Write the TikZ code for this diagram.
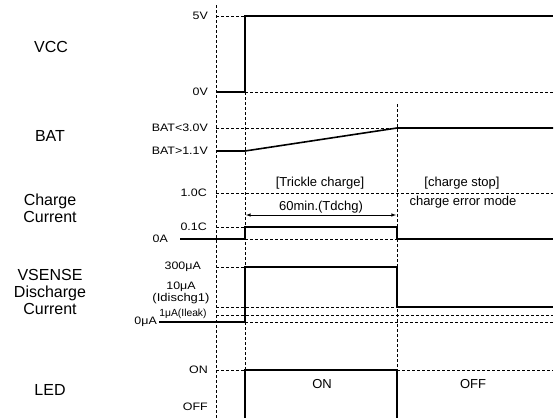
\documentclass[tikz,border=0pt]{standalone}
\usepackage{fontspec}
\setmainfont{Liberation Sans}
\newfontfamily\levelfont[FakeStretch=1.15]{Liberation Sans}
\usetikzlibrary{arrows,positioning}

\begin{document}
\begin{tikzpicture}[x=1pt, y=-1pt,
    sig/.style={line width=1.6pt},
    guide/.style={line width=0.6pt, dash pattern=on 3pt off 2pt},
    vguide/.style={line width=0.9pt, dash pattern=on 3pt off 2pt},
    signame/.style={font=\fontsize{16}{17}\selectfont, align=center, inner sep=0pt},
    level/.style={font=\levelfont\fontsize{10.8}{12}\selectfont, anchor=east, inner sep=0pt},
    phase/.style={font=\fontsize{13}{14}\selectfont, inner sep=0pt}]
    \useasboundingbox (0,0) rectangle (556,418);

    % signal names
    \node[signame] (vcc) at (51,47) {VCC};
    \node[signame] (bat) at (50,136) {BAT};
    \node[signame] (chg) at (50,208) {Charge\\Current};
    \node[signame] (vsense) at (50,292) {VSENSE\\Discharge\\Current};
    \node[signame] (led) at (50,390) {LED};

    % level labels
    \node[level] (v5) at (208,16) {5V};
    \node[level] (v0) at (208,92) {0V};
    \node[level] (bathi) at (208,128) {BAT<3.0V};
    \node[level] (batlo) at (208,151) {BAT>1.1V};
    \node[level] (c10) at (207,193) {1.0C};
    \node[level] (c01) at (207,227) {0.1C};
    \node[level] (a0) at (168,239) {0A};
    \node[level] (ua300) at (201,267) {300μA};
    \node[level, anchor=center] (ua10) at (181,287) {10μA};
    \node[level, anchor=center, font=\levelfont\fontsize{11.3}{12}\selectfont] (idis) at (181,299) {(Idischg1)};
    \node[level, anchor=center, font=\fontsize{10.3}{11}\selectfont] (ileak) at (183,314) {1μA(Ileak)};
    \node[level] (ua0) at (157,322) {0μA};
    \node[level] (on) at (208,370) {ON};
    \node[level] (off) at (208,407) {OFF};

    % phase texts
    \node[phase] (trickle) at (320,183) {[Trickle charge]};
    \node[phase] (tdchg) at (321,207) {60min.(Tdchg)};
    \node[phase] (stop) at (462,183) {[charge stop]};
    \node[phase] (errmode) at (463,202) {charge error mode};
    \node[phase] (ledon) at (322,384) {ON};
    \node[phase] (ledoff) at (473,384) {OFF};

    % time markers
    \draw[vguide] (216,5) -- (216,418);
    \draw[vguide] (245,92) -- (245,418);
    \draw[vguide] (397,104) -- (397,370);

    % VCC
    \draw[guide] (216,16) -- (245,16);
    \draw[guide] (245,92) -- (553,92);
    \draw[sig] (216,92) -- (245,92) -- (245,16) -- (553,16);

    % BAT
    \draw[guide] (216,128) -- (397,128);
    \draw[sig] (216,151) -- (245,151) -- (397,128) -- (553,128);

    % charge current
    \draw[guide] (216,193) -- (553,193);
    \draw[guide] (216,227) -- (245,227);
    \draw[guide] (245,239) -- (397,239);
    \draw[sig] (180,239) -- (245,239) -- (245,227) -- (397,227) -- (397,239) -- (553,239);
    \coordinate (tstart) at (246,215);
    \coordinate (tstop) at (396,215);
    \draw[<->, >=latex, line width=0.6pt] (tstart) -- (tstop);

    % discharge current
    \draw[guide] (216,267) -- (245,267);
    \draw[guide] (216,307) -- (397,307);
    \draw[guide] (216,315) -- (553,315);
    \draw[guide] (245,322) -- (553,322);
    \draw[sig] (159,322) -- (245,322) -- (245,267) -- (397,267) -- (397,307) -- (553,307);

    % LED
    \draw[guide] (216,370) -- (245,370);
    \draw[guide] (397,370) -- (553,370);
    \draw[sig] (245,418) -- (245,370) -- (397,370) -- (397,418);
\end{tikzpicture}
\end{document}
